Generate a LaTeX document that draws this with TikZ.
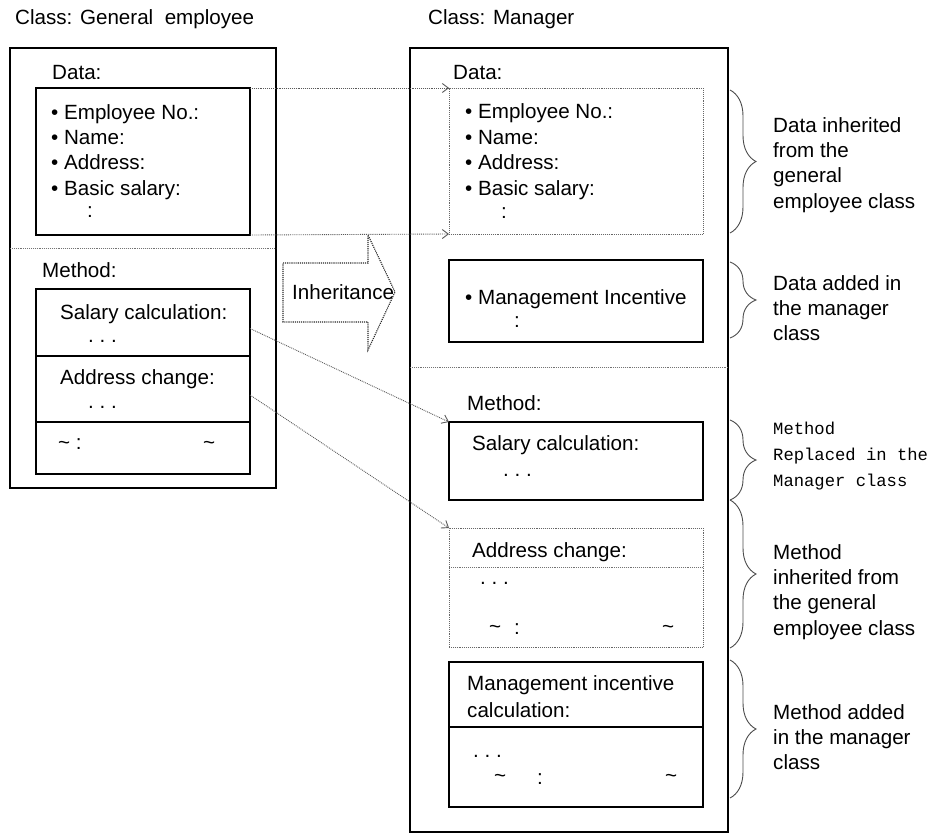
\documentclass[tikz,border=0pt]{standalone}
\usepackage{fontspec}
\setmainfont{Liberation Sans}
\newfontfamily\monofont{Liberation Mono}
\usetikzlibrary{decorations.pathreplacing,arrows.meta,calc}
\begin{document}
\begin{tikzpicture}[x=1pt,y=-1pt,
  txt/.style={anchor=base west, inner sep=0pt, font=\fontsize{20.6}{25}\selectfont},
  solidbox/.style={draw=black, line width=1.3pt, anchor=north west, inner sep=0pt, outer sep=0pt},
  dotbox/.style={draw=black!60, line width=0.9pt, densely dotted, anchor=north west, inner sep=0pt, outer sep=0pt},
  divline/.style={draw=black!55, line width=0.9pt, densely dotted},
  link/.style={draw=black!65, line width=0.9pt, densely dotted, -{Straight Barb[length=6pt,width=9pt]}},
  brc/.style={draw=black!70, line width=0.9pt, decorate, decoration={brace, amplitude=26pt}},
  lbl/.style={anchor=north west, inner sep=0pt, align=left, font=\fontsize{20.6}{25.3}\selectfont},
  mlbl/.style={anchor=north west, inner sep=0pt, align=left, font=\monofont\fontsize{17.2}{26}\selectfont},
  bigarrow/.style={draw=black!85, line width=1.1pt, densely dotted},
]
\useasboundingbox (0,0) rectangle (935,835);

% ---------- titles ----------
\node[txt] (t1) at (15,24) {Class: General\ \ employee};
\node[txt] (t2) at (428,24) {Class: Manager};

% ---------- left class ----------
\node[solidbox, minimum width=266pt, minimum height=440pt] (lo) at (10,48) {};
\draw[divline] (10,248) -- (276,248);
\node[txt] (ldl) at (52,79) {Data:};
\node[solidbox, minimum width=214pt, minimum height=147pt] (ld) at (36,88) {};
\node[txt] (l1) at (51,119) {• Employee No.:};
\node[txt] (l2) at (51,144) {• Name:};
\node[txt] (l3) at (51,169) {• Address:};
\node[txt] (l4) at (51,195) {• Basic salary:};
\node[txt] (l5) at (87,217) {:};

\node[txt] (lml) at (42,277) {Method:};
\node[solidbox, minimum width=214pt, minimum height=67pt] (lm1) at (36,289) {};
\node[solidbox, minimum width=214pt, minimum height=66pt] (lm2) at (36,356) {};
\node[solidbox, minimum width=214pt, minimum height=52pt] (lm3) at (36,422) {};
\node[txt] (ls1) at (60,319) {Salary calculation:};
\node[txt] (ls2) at (88,342) {.\ .\ .};
\node[txt] (la1) at (60,384) {Address change:};
\node[txt] (la2) at (88,408) {.\ .\ .};
\node[txt] (lt1) at (58,449) {\char`\~\ :};
\node[txt] (lt2) at (203,449) {\char`\~};

% ---------- inheritance arrow ----------
\draw[bigarrow] (283,263) -- (368,263) -- (368,235) -- (395,292) -- (368,350) -- (368,322) -- (283,322) -- cycle;
\node[txt] (inh) at (292,299) {Inheritance};

% ---------- right class ----------
\node[solidbox, minimum width=318pt, minimum height=784pt] (ro) at (410,48) {};
\draw[divline] (410,367) -- (728,367);
\node[txt] (rdl) at (453,79) {Data:};
\node[dotbox, minimum width=254pt, minimum height=146pt] (rd) at (449,88) {};
\node[txt] (r1) at (465,118) {• Employee No.:};
\node[txt] (r2) at (465,144) {• Name:};
\node[txt] (r3) at (465,169) {• Address:};
\node[txt] (r4) at (465,195) {• Basic salary:};
\node[txt] (r5) at (501,218) {:};

\node[solidbox, minimum width=254pt, minimum height=82pt] (ri) at (449,260) {};
\node[txt] (ri1) at (465,304) {• Management Incentive};
\node[txt] (ri2) at (514,327) {:};

\node[txt] (rml) at (467,410) {Method:};
\node[solidbox, minimum width=254pt, minimum height=78pt] (rs) at (449,422) {};
\node[txt] (rs1) at (472,450) {Salary calculation:};
\node[txt] (rs2) at (503,476) {.\ .\ .};

\node[dotbox, minimum width=254pt, minimum height=119pt] (ra) at (449,528) {};
\draw[divline] (449,567) -- (703,567);
\node[txt] (ra1) at (472,557) {Address change:};
\node[txt] (ra2) at (480,584) {.\ .\ .};
\node[txt] (ra3) at (489,633) {\char`\~};
\node[txt] (ra4) at (514,634) {:};
\node[txt] (ra5) at (662,633) {\char`\~};

\node[solidbox, minimum width=254pt, minimum height=145pt] (rm) at (449,662) {};
\draw[solidbox] (449,727) -- (703,727);
\node[txt] (rm1) at (467,690) {Management incentive};
\node[txt] (rm2) at (467,717) {calculation:};
\node[txt] (rm3) at (473,757) {.\ .\ .};
\node[txt] (rm4) at (494,782) {\char`\~};
\node[txt] (rm5) at (537,784) {:};
\node[txt] (rm6) at (665,782) {\char`\~};

% ---------- connectors ----------
\draw[link] (ld.north east) -- (rd.north west);
\draw[link] (ld.south east) -- (rd.south west);
\draw[link] ([yshift=-6pt]lm1.east) -- (rs.north west);
\draw[link] ([yshift=-6pt]lm2.east) -- (ra.north west);

% ---------- braces ----------
\draw[brc] (730,90) -- (730,233);
\draw[brc] (730,262) -- (730,338);
\draw[brc] (730,420) -- (730,500);
\draw[brc] (730,500) -- (730,648);
\draw[brc] (730,660) -- (730,798);

\node[lbl] (b1) at (773,117) {\rule{0pt}{15pt}Data inherited\\from the\\general\\employee class};
\node[lbl] (b2) at (773,275) {\rule{0pt}{15pt}Data added in\\the manager\\class};
\node[mlbl] (b3) at (773,421) {\rule{0pt}{13pt}Method\\Replaced in the\\Manager class};
\node[lbl] (b4) at (773,544) {\rule{0pt}{15pt}Method\\inherited from\\the general\\employee class};
\node[lbl] (b5) at (773,704) {\rule{0pt}{15pt}Method added\\in the manager\\class};
\end{tikzpicture}
\end{document}
